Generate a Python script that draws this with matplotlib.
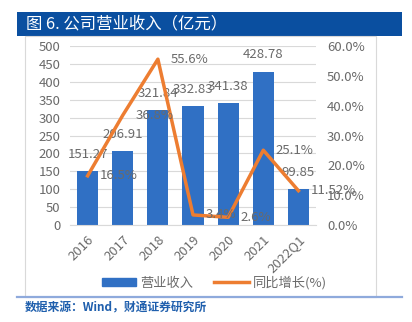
import matplotlib.pyplot as plt
import matplotlib.patches as mpatches
from matplotlib.lines import Line2D
import numpy as np

plt.rcParams['font.family'] = ['Noto Sans CJK SC', 'DejaVu Sans']

# Revenue (100M yuan) and YoY growth (%)
years = ['2016', '2017', '2018', '2019', '2020', '2021', '2022Q1']
revenue = [151.27, 206.91, 321.84, 332.83, 341.38, 428.78, 99.85]
growth = [16.5, 36.8, 55.6, 3.4, 2.6, 25.1, 11.52]
growth_labels = ['16.5%', '36.8%', '55.6%', '3.4%', '2.6%', '25.1%', '11.52%']

bar_color = '#3070C4'
line_color = '#ED7D31'
text_color = '#6A6A6A'

fig = plt.figure(figsize=(4.12, 3.22), dpi=100)

# header bar and frame
fig.patches.append(mpatches.Rectangle((0.041, 0.888), 0.935, 0.075, transform=fig.transFigure,
                                      facecolor='#0A4FA0', edgecolor='none', zorder=0))
fig.text(0.063, 0.925, '图 6. 公司营业收入（亿元）', color='white', fontsize=11.8,
         va='center', ha='left', fontweight='medium')
fig.patches.append(mpatches.Rectangle((0.061, 0.078), 0.852, 0.810, transform=fig.transFigure,
                                      facecolor='none', edgecolor='#D9D9D9', lw=0.8, zorder=0))
fig.add_artist(Line2D([0.041, 0.976], [0.078, 0.078], color='#8FAADC', lw=1.6))
fig.text(0.061, 0.043, '数据来源：Wind，财通证券研究所', color='#1F5FAD', fontsize=8.5,
         va='center', ha='left', fontweight='bold')

ax = fig.add_axes([0.170, 0.301, 0.597, 0.556])
x = np.arange(len(years))
ax.bar(x, revenue, width=0.6, color=bar_color, zorder=2)
ax.set_ylim(0, 500)
ax.set_yticks(np.arange(0, 501, 50))
ax.set_xlim(-0.5, len(years) - 0.5)
ax.grid(axis='y', color='#D9D9D9', lw=0.8, zorder=0)
ax.set_xticks(x)
ax.set_xticklabels(years, rotation=45, ha='right', va='top', rotation_mode='anchor')
ax.tick_params(axis='both', length=0, labelsize=9.5, labelcolor=text_color)
ax.tick_params(axis='y', pad=7)
ax.tick_params(axis='x', pad=6)
for s in ax.spines.values():
    s.set_visible(False)
ax.spines['bottom'].set_visible(True)
ax.spines['bottom'].set_color('#D9D9D9')

for xi, v in zip(x, revenue):
    ax.annotate(f'{v:.2f}', (xi, v), xytext=(0, 12), textcoords='offset points',
                ha='center', va='center', fontsize=9.5, color=text_color, zorder=5)

ax2 = ax.twinx()
ax2.plot(x, np.array(growth) / 100, color=line_color, lw=2.5, zorder=3)
ax2.set_ylim(0, 0.6)
ax2.set_yticks(np.arange(0, 0.61, 0.1))
ax2.set_yticklabels([f'{t * 100:.1f}%' for t in np.arange(0, 0.61, 0.1)])
ax2.tick_params(axis='y', length=0, labelsize=9.5, labelcolor=text_color, pad=8)
for s in ax2.spines.values():
    s.set_visible(False)

for xi, g, lab in zip(x, growth, growth_labels):
    ax2.annotate(lab, (xi, g / 100), xytext=(9, 0), textcoords='offset points',
                 ha='left', va='center', fontsize=9.5, color=text_color, zorder=5)

handles = [mpatches.Patch(color=bar_color),
           Line2D([0], [0], color=line_color, lw=2.5)]
fig.legend(handles, ['营业收入', '同比增长(%)'], loc='center', bbox_to_anchor=(0.52, 0.121),
           ncol=2, frameon=False, fontsize=9.5, labelcolor=text_color,
           handlelength=2.6, handleheight=0.6, columnspacing=1.6, handletextpad=0.3)

fig.savefig('out.png', dpi=100)
